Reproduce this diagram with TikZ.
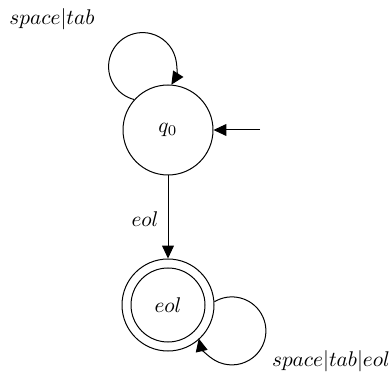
\documentclass[tikz,border=0pt]{standalone}
\usetikzlibrary{arrows.meta}
\begin{document}
\begin{tikzpicture}[x=0.47pt, y=-0.47pt,
    every path/.style={line width=0.47pt},
    state/.style={circle, draw, inner sep=0pt, minimum size=42.3pt},
    accepting/.style={circle, draw, inner sep=0pt, minimum size=43.24pt},
    lbl/.style={inner sep=0pt},
    arr/.style={-{Triangle[length=6.1pt,width=5.6pt]}}]
  \useasboundingbox (0,0) rectangle (392,374);

  % states
  \node[state] (q0) at (168,130) {$q_0$};
  \node[accepting] (eol) at (168,305) {$eol$};
  \draw (eol.center) circle[radius=17.39pt];

  % start arrow
  \coordinate (init) at (260,130);
  \draw[arr] (init) -- (q0.east);

  % transitions
  \draw[arr] (q0.south) -- (eol.north);
  \draw[arr] (q0.138) arc[start angle=255.7, end angle=-32.2, radius=15.98pt];
  \draw[arr] (eol.4) arc[start angle=121, end angle=-167, radius=15.98pt];

  % labels
  \node[lbl] (l1) at (52,19) {$space|tab$};
  \node[lbl] (l2) at (145,219) {$eol$};
  \node[lbl] (l3) at (331,361) {$space|tab|eol$};
\end{tikzpicture}
\end{document}
